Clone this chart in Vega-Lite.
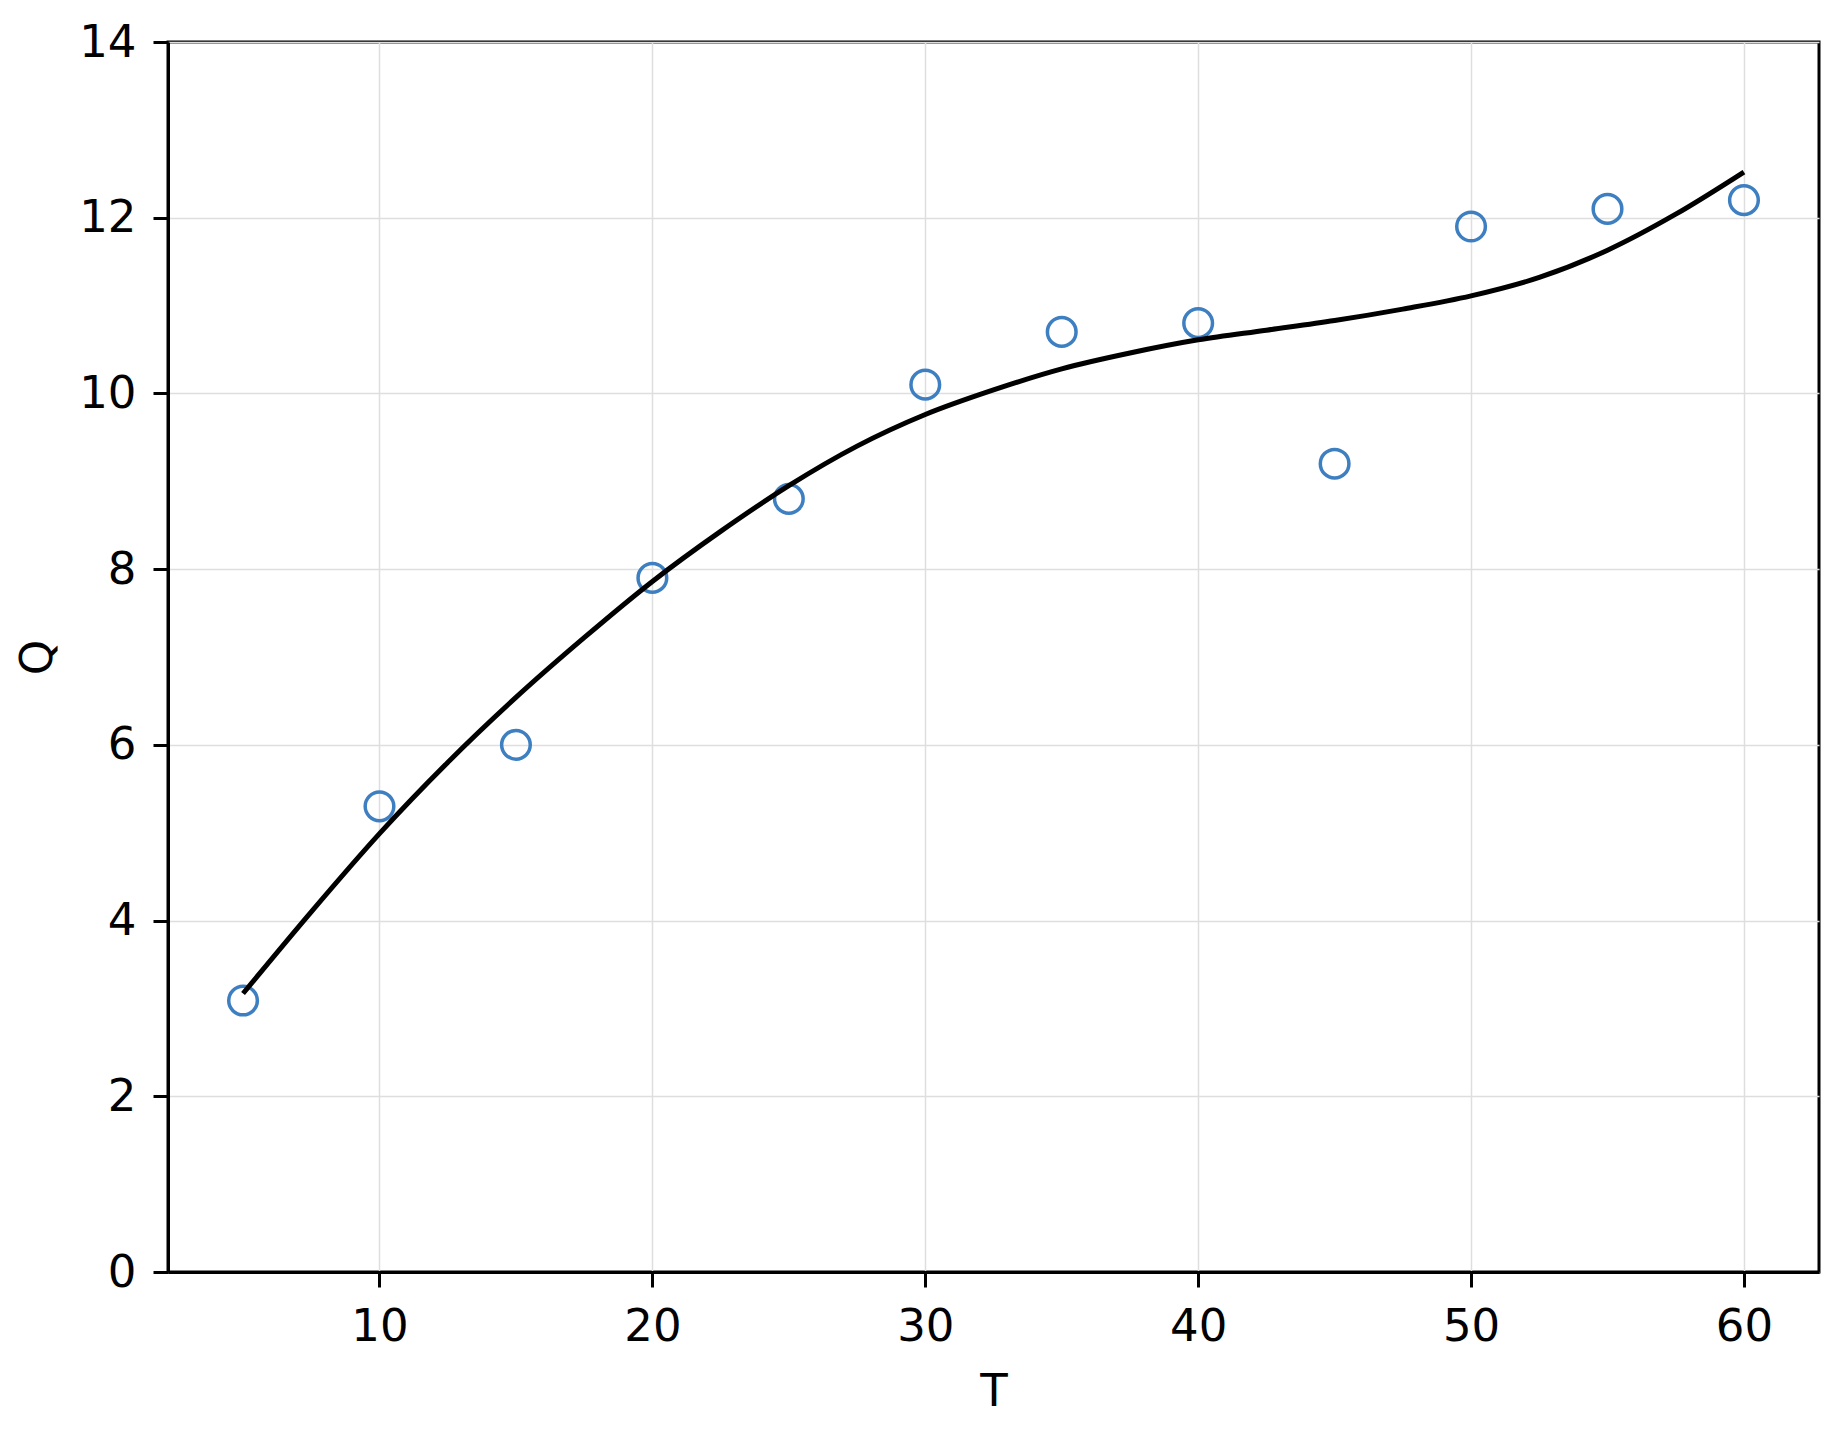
{
  "$schema": "https://vega.github.io/schema/vega-lite/v6.json",
  "width": 1651,
  "height": 1230,
  "autosize": "none",
  "padding": {"left": 168, "top": 42, "right": 17, "bottom": 166},
  "background": "white",
  "config": {
    "font": "DejaVu Sans",
    "view": {"stroke": "black", "strokeWidth": 3},
    "axis": {
      "domainColor": "black",
      "domainWidth": 3,
      "tickColor": "black",
      "tickWidth": 3,
      "tickSize": 15,
      "labelFont": "DejaVu Sans",
      "labelFontSize": 45,
      "labelColor": "black",
      "labelPadding": 17,
      "labelFlush": false,
      "titleFont": "DejaVu Sans",
      "titleFontSize": 45,
      "titleFontWeight": "normal",
      "titleColor": "black",
      "gridColor": "#dedede",
      "gridWidth": 1.5
    }
  },
  "datasets": {
    "points": [
      {"T": 5, "Q": 3.09},
      {"T": 10, "Q": 5.3},
      {"T": 15, "Q": 6.0},
      {"T": 20, "Q": 7.9},
      {"T": 25, "Q": 8.8},
      {"T": 30, "Q": 10.1},
      {"T": 35, "Q": 10.7},
      {"T": 40, "Q": 10.8},
      {"T": 45, "Q": 9.2},
      {"T": 50, "Q": 11.9},
      {"T": 55, "Q": 12.1},
      {"T": 60, "Q": 12.2}
    ],
    "fit": [
      {"T": 5, "Q": 3.17},
      {"T": 7.5, "Q": 4.1},
      {"T": 10, "Q": 4.99},
      {"T": 12.5, "Q": 5.8},
      {"T": 15, "Q": 6.54},
      {"T": 17.5, "Q": 7.22},
      {"T": 20, "Q": 7.86},
      {"T": 22.5, "Q": 8.43},
      {"T": 25, "Q": 8.95},
      {"T": 27.5, "Q": 9.4},
      {"T": 30, "Q": 9.76},
      {"T": 32.5, "Q": 10.04},
      {"T": 35, "Q": 10.28},
      {"T": 37.5, "Q": 10.46},
      {"T": 40, "Q": 10.61},
      {"T": 42.5, "Q": 10.72},
      {"T": 45, "Q": 10.83},
      {"T": 47.5, "Q": 10.96},
      {"T": 50, "Q": 11.11},
      {"T": 52.5, "Q": 11.32},
      {"T": 55, "Q": 11.63},
      {"T": 57.5, "Q": 12.04},
      {"T": 60, "Q": 12.52}
    ]
  },
  "encoding": {
    "x": {
      "field": "T",
      "type": "quantitative",
      "scale": {"domain": [2.25, 62.75], "nice": false, "zero": false},
      "axis": {"values": [10, 20, 30, 40, 50, 60], "title": "T", "grid": true, "titlePadding": 20}
    },
    "y": {
      "field": "Q",
      "type": "quantitative",
      "scale": {"domain": [0, 14], "nice": false},
      "axis": {"values": [0, 2, 4, 6, 8, 10, 12, 14], "title": "Q", "grid": true, "titlePadding": 18}
    }
  },
  "layer": [
    {
      "data": {"name": "points"},
      "mark": {"type": "point", "shape": "circle", "filled": false, "color": "#3d7fc1", "size": 820, "strokeWidth": 3.5, "opacity": 1}
    },
    {
      "data": {"name": "fit"},
      "mark": {"type": "line", "color": "black", "strokeWidth": 5, "interpolate": "monotone"}
    }
  ]
}
